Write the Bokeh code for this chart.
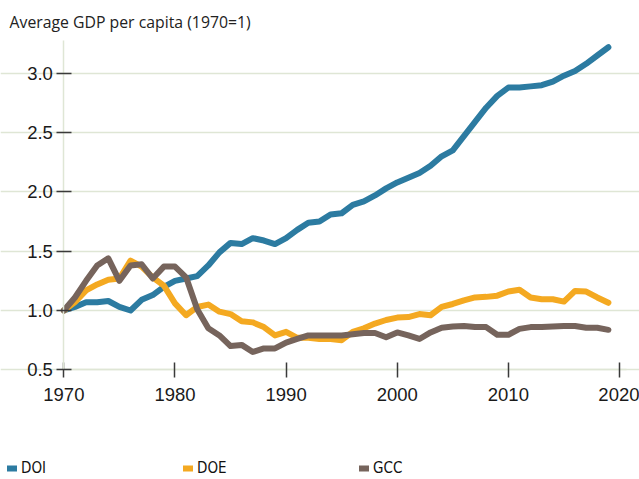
from bokeh.plotting import figure
from bokeh.models import (Range1d, FixedTicker, Label, Legend, LegendItem,
                          CustomJSTickFormatter)
from bokeh.embed import file_html
from bokeh.resources import INLINE

years = list(range(1970, 2020))

doi = [1.00, 1.03, 1.07, 1.07, 1.08, 1.03, 1.00, 1.09, 1.13, 1.20,
       1.25, 1.27, 1.29, 1.38, 1.49, 1.57, 1.56, 1.61, 1.59, 1.56,
       1.61, 1.68, 1.74, 1.75, 1.81, 1.82, 1.89, 1.92, 1.97, 2.03,
       2.08, 2.12, 2.16, 2.22, 2.30, 2.35, 2.47, 2.59, 2.71, 2.81,
       2.88, 2.88, 2.89, 2.90, 2.93, 2.98, 3.02, 3.08, 3.15, 3.22]

doe = [1.00, 1.07, 1.17, 1.22, 1.26, 1.27, 1.42, 1.37, 1.28, 1.21,
       1.06, 0.96, 1.03, 1.05, 0.99, 0.97, 0.91, 0.90, 0.86, 0.79,
       0.82, 0.77, 0.77, 0.76, 0.76, 0.75, 0.82, 0.85, 0.89, 0.92,
       0.94, 0.945, 0.97, 0.96, 1.03, 1.055, 1.085, 1.11, 1.115, 1.125,
       1.16, 1.175, 1.11, 1.095, 1.095, 1.075, 1.165, 1.16, 1.11, 1.065]

gcc = [1.00, 1.11, 1.25, 1.38, 1.44, 1.25, 1.38, 1.39, 1.27, 1.37,
       1.37, 1.28, 1.01, 0.85, 0.79, 0.70, 0.71, 0.65, 0.68, 0.68,
       0.73, 0.76, 0.79, 0.79, 0.79, 0.79, 0.80, 0.81, 0.81, 0.775,
       0.815, 0.79, 0.76, 0.815, 0.855, 0.865, 0.87, 0.86, 0.86, 0.795,
       0.795, 0.845, 0.86, 0.86, 0.865, 0.87, 0.87, 0.855, 0.855, 0.837]

series_names = ["DOI", "DOE", "GCC"]
series_values = [doi, doe, gcc]
series_colors = ["#2c7ba1", "#f4a921", "#76645c"]

y_ticks = [0.5, 1.0, 1.5, 2.0, 2.5, 3.0]
x_ticks = [1970, 1980, 1990, 2000, 2010, 2020]
title_text = "Average GDP per capita (1970=1)"

# visible data window of the chart area
X_MIN, X_MAX = 1970, 2020.67
Y_MIN, Y_MAX = 0.5, 3.274

GRID = "#dfe6d5"
TICK = "#3a3a3a"
W, H = 639, 479

# the frame fills the whole canvas; axes sit at fixed data locations
p = figure(width=W, height=H, output_backend="svg", toolbar_location=None,
           x_range=Range1d(1964.30, 2021.80), y_range=Range1d(-0.425, 3.614),
           min_border=0, min_border_left=0, min_border_right=0,
           min_border_top=0, min_border_bottom=0)
p.outline_line_color = None

p.xgrid.visible = False
p.ygrid.ticker = FixedTicker(ticks=y_ticks)
p.ygrid.grid_line_color = GRID
p.ygrid.grid_line_width = 1.5
p.ygrid.bounds = (X_MIN, X_MAX)

for ax in (p.xaxis[0], p.yaxis[0]):
    ax.axis_line_color = GRID
    ax.axis_line_width = 1.5
    ax.major_tick_line_color = TICK
    ax.major_tick_line_width = 1.5
    ax.minor_tick_line_color = None
    ax.major_label_text_font = "Liberation Sans"
    ax.major_label_text_font_size = "18.5px"
    ax.major_label_text_color = "#1a1a1a"

p.xaxis.fixed_location = Y_MIN
p.xaxis.bounds = (X_MIN, X_MAX)
p.xaxis.ticker = FixedTicker(ticks=x_ticks)
p.xaxis.major_tick_in = 7
p.xaxis.major_tick_out = 8
p.xaxis.major_label_standoff = 10

p.yaxis.fixed_location = X_MIN
p.yaxis.bounds = (Y_MIN, Y_MAX)
p.yaxis.ticker = FixedTicker(ticks=y_ticks)
p.yaxis.formatter = CustomJSTickFormatter(code="return tick.toFixed(1);")
p.yaxis.major_tick_in = 8
p.yaxis.major_tick_out = 7
p.yaxis.major_label_standoff = 4

renderers = []
for name, vals, col in zip(series_names, series_values, series_colors):
    r = p.line(years, vals, line_color=col, line_width=6,
               line_cap="round", line_join="round")
    renderers.append(r)

p.add_layout(Label(x=9, y=H - 21, x_units="screen", y_units="screen",
                   text=title_text, text_font="Open Sans",
                   text_font_size="15.8px", text_color="#222222",
                   text_baseline="alphabetic"))

lg = Legend(items=[LegendItem(label=n, renderers=[r])
                   for n, r in zip(series_names, renderers)],
            location=(7, 2), orientation="horizontal",
            padding=0, margin=0, spacing=132, glyph_width=10,
            glyph_height=14, label_height=14, label_width=30,
            label_standoff=4,
            label_text_font="DejaVu Sans Condensed",
            label_text_font_size="15px", label_text_color="#111111",
            border_line_color=None, background_fill_alpha=0)
p.add_layout(lg, "center")

open("out.html", "w").write(file_html(p, INLINE))
